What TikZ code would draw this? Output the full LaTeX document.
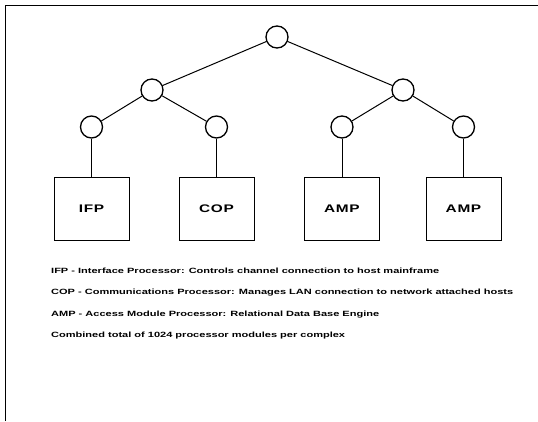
\documentclass[tikz,border=0pt]{standalone}
\usepackage{fontspec}
\setmainfont{Liberation Sans}
\newfontfamily\boxfont[FakeStretch=1.4,LetterSpace=6]{Liberation Sans}
\newfontfamily\notefont[FakeStretch=1.45]{Liberation Sans}
\begin{document}
\begin{tikzpicture}[x=1pt,y=-1pt,
  tnode/.style={circle,draw,line width=1.3pt,minimum size=22pt,inner sep=0pt},
  pbox/.style={rectangle,draw,line width=1pt,minimum width=75pt,minimum height=63pt,inner sep=0pt,font=\boxfont\bfseries\fontsize{11}{13}\selectfont},
  link/.style={line width=1pt},
  note/.style={anchor=west,inner sep=0pt,font=\notefont\bfseries\fontsize{7.6}{9}\selectfont}]
\useasboundingbox (0,0) rectangle (538,421);
\coordinate (bl) at (5,421);
\coordinate (tl) at (5,5);
\coordinate (tr) at (538,5);
\draw[line width=1pt] (bl) -- (tl) -- (tr);

\node[tnode] (root) at (277,37) {};
\node[tnode] (l) at (152,90) {};
\node[tnode] (r) at (403,90) {};
\node[tnode] (ll) at (91.5,127) {};
\node[tnode] (lr) at (216.5,127) {};
\node[tnode] (rl) at (342,127) {};
\node[tnode] (rr) at (463.5,127) {};

\node[pbox] (b1) at (91.5,208.5) {IFP};
\node[pbox] (b2) at (216.5,208.5) {COP};
\node[pbox] (b3) at (342,208.5) {AMP};
\node[pbox] (b4) at (463.5,208.5) {AMP};

\draw[link] (root) -- (l);
\draw[link] (root) -- (r);
\draw[link] (l) -- (ll);
\draw[link] (l) -- (lr);
\draw[link] (r) -- (rl);
\draw[link] (r) -- (rr);
\draw[link] (ll) -- (b1);
\draw[link] (lr) -- (b2);
\draw[link] (rl) -- (b3);
\draw[link] (rr) -- (b4);

\node[note] (n1) at (51,271) {IFP - Interface Processor: Controls channel connection to host mainframe};
\node[note] (n2) at (51,293) {COP - Communications Processor: Manages LAN connection to network attached hosts};
\node[note] (n3) at (51,314.5) {AMP - Access Module Processor: Relational Data Base Engine};
\node[note] (n4) at (51,336) {Combined total of 1024 processor modules per complex};
\end{tikzpicture}
\end{document}
